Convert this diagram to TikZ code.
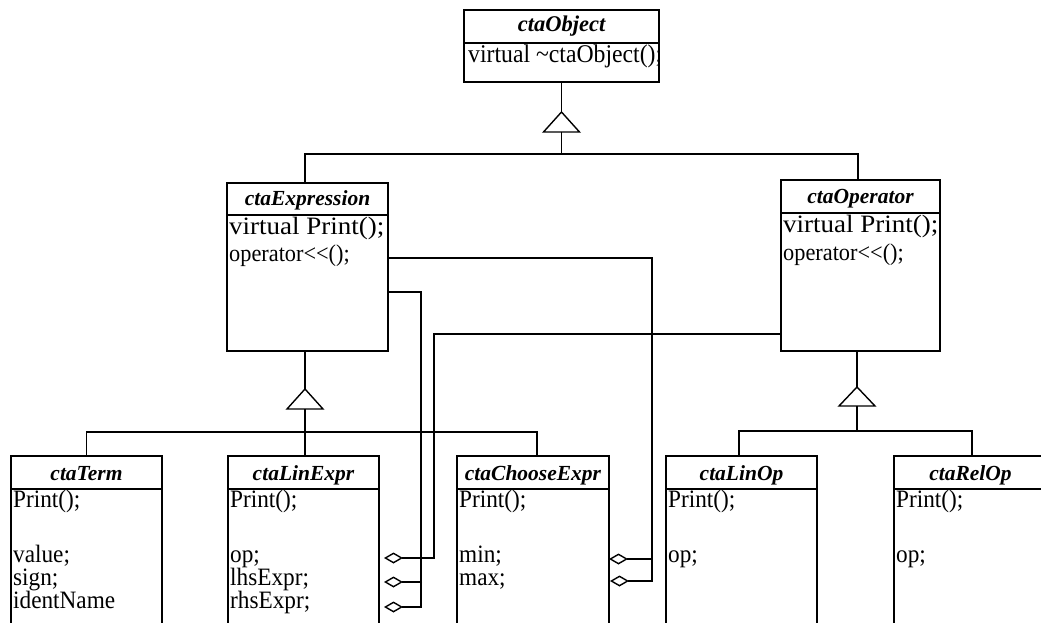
\documentclass[tikz,border=0pt]{standalone}
\usepackage{fontspec}
\setmainfont{Liberation Serif}
\newfontfamily\memberfont{Liberation Serif}[FakeStretch=0.93]
\newfontfamily\virtualfont{Liberation Serif}[FakeStretch=1.08]
\usetikzlibrary{arrows.meta,calc}

\tikzset{
  classbox/.style={draw, line width=1.8pt, rectangle, anchor=north west, inner sep=0pt, outer sep=0pt},
  title/.style={font=\fontsize{21.5}{24}\selectfont\bfseries\itshape, anchor=base, inner sep=0pt},
  member/.style={font=\memberfont\fontsize{25}{28}\selectfont, anchor=base west, inner sep=0pt},
  opmember/.style={font=\memberfont\fontsize{24}{27}\selectfont, anchor=base west, inner sep=0pt},
  bigmember/.style={font=\virtualfont\fontsize{25}{28}\selectfont, anchor=base west, inner sep=0pt},
  wire/.style={line width=1.4pt},
  agg/.style={wire, -{Diamond[open, length=19pt, width=11pt]}},
}

\begin{document}
\begin{tikzpicture}[x=1pt, y=-1pt]
\useasboundingbox (0,0) rectangle (1041,623);
\clip (0,0) rectangle (1041,623);

% ---- ctaObject ----
\node[classbox, minimum width=195pt, minimum height=33pt] (objH) at (464,10) {};
\node[classbox, minimum width=195pt, minimum height=39pt] (objB) at (464,43) {};
\node[title, font=\fontsize{22.5}{25}\selectfont\bfseries\itshape] (objT) at (561.5,32) {ctaObject};
\begin{scope}
  \clip (464,43) rectangle (659,82);
  \node[member, font=\memberfont\fontsize{25.5}{28}\selectfont] (objM1) at (468,63) {virtual \textasciitilde ctaObject();};
\end{scope}

% ---- ctaExpression ----
\node[classbox, minimum width=161pt, minimum height=32pt] (exprH) at (227,183) {};
\node[classbox, minimum width=161pt, minimum height=136pt] (exprB) at (227,215) {};
\node[title] (exprT) at (307.5,205) {ctaExpression};
\node[bigmember] (exprM1) at (229,234) {virtual Print();};
\node[opmember] (exprM2) at (229,261) {operator<\kern0pt<();};

% ---- ctaOperator ----
\node[classbox, minimum width=159pt, minimum height=33pt] (operH) at (781,180) {};
\node[classbox, minimum width=159pt, minimum height=138pt] (operB) at (781,213) {};
\node[title] (operT) at (860.5,203) {ctaOperator};
\node[bigmember] (operM1) at (783,232) {virtual Print();};
\node[opmember] (operM2) at (783,260) {operator<\kern0pt<();};

% ---- ctaTerm ----
\node[classbox, minimum width=151pt, minimum height=33pt] (termH) at (11,456) {};
\node[classbox, minimum width=151pt, minimum height=160pt] (termB) at (11,489) {};
\node[title] (termT) at (86.5,480) {ctaTerm};
\node[member] (termM1) at (13,507) {Print();};
\node[member] (termM2) at (13,562) {value;};
\node[member] (termM3) at (13,585) {sign;};
\node[member] (termM4) at (13,608) {identName};

% ---- ctaLinExpr ----
\node[classbox, minimum width=151pt, minimum height=33pt] (linexH) at (228,456) {};
\node[classbox, minimum width=151pt, minimum height=160pt] (linexB) at (228,489) {};
\node[title] (linexT) at (303.5,480) {ctaLinExpr};
\node[member] (linexM1) at (230,507) {Print();};
\node[member] (linexM2) at (230,562) {op;};
\node[member] (linexM3) at (230,585) {lhsExpr;};
\node[member] (linexM4) at (230,608) {rhsExpr;};

% ---- ctaChooseExpr ----
\node[classbox, minimum width=152pt, minimum height=33pt] (chooseH) at (457,456) {};
\node[classbox, minimum width=152pt, minimum height=160pt] (chooseB) at (457,489) {};
\node[title] (chooseT) at (533,480) {ctaChooseExpr};
\node[member] (chooseM1) at (459,507) {Print();};
\node[member] (chooseM2) at (459,562) {min;};
\node[member] (chooseM3) at (459,585) {max;};

% ---- ctaLinOp ----
\node[classbox, minimum width=151pt, minimum height=33pt] (linopH) at (666,456) {};
\node[classbox, minimum width=151pt, minimum height=160pt] (linopB) at (666,489) {};
\node[title] (linopT) at (741.5,480) {ctaLinOp};
\node[member] (linopM1) at (668,507) {Print();};
\node[member] (linopM2) at (668,562) {op;};

% ---- ctaRelOp ----
\node[classbox, minimum width=153pt, minimum height=33pt] (relopH) at (894,456) {};
\node[classbox, minimum width=153pt, minimum height=160pt] (relopB) at (894,489) {};
\node[title] (relopT) at (970.5,480) {ctaRelOp};
\node[member] (relopM1) at (896,507) {Print();};
\node[member] (relopM2) at (896,562) {op;};

% ---- generalisation: ctaObject ----
\coordinate (tri1) at (561.5,112);
\coordinate (tri1b) at (561.5,132);
\coordinate (bus1) at (561.5,154);
\draw[wire] (objB.south) -- (tri1);
\draw[wire] (tri1) -- ++(-18,20) -- ++(36,0) -- cycle;
\draw[wire] (tri1b) -- (bus1);
\draw[wire] (exprH.north -| 305,0) |- (bus1) -| (operH.north -| 858,0);

% ---- generalisation: ctaExpression ----
\coordinate (tri2) at (305,389);
\coordinate (tri2b) at (305,409);
\coordinate (bus2) at (305,432);
\draw[wire] (exprB.south -| tri2) -- (tri2);
\draw[wire] (tri2) -- ++(-18,20) -- ++(36,0) -- cycle;
\draw[wire] (tri2b) -- (linexH.north -| tri2);
\draw[wire] (termH.north) |- (bus2) -| (chooseH.north -| 537,0);

% ---- generalisation: ctaOperator ----
\coordinate (tri3) at (857,387);
\coordinate (tri3b) at (857,406);
\coordinate (bus3) at (857,431);
\draw[wire] (operB.south -| tri3) -- (tri3);
\draw[wire] (tri3) -- ++(-18,19) -- ++(36,0) -- cycle;
\draw[wire] (tri3b) -- (bus3);
\draw[wire] (linopH.north -| 739,0) |- (bus3) -| (relopH.north -| 972,0);

% ---- aggregations ----
\coordinate (maxJ) at (652,581);
\coordinate (minJ) at (652,559);
\coordinate (chooseMax) at (610,581);
\coordinate (chooseMin) at (609,559);
\draw[agg] ($(exprB.north east)+(0,43)$) -| (maxJ) -- (chooseMax);
\draw[agg] (minJ) -- (chooseMin);

\coordinate (rhsJ) at (421,607);
\coordinate (lhsJ) at (422,582);
\coordinate (linRhs) at (384,607);
\coordinate (linLhs) at (384,582);
\draw[agg] ($(exprB.north east)+(0,77)$) -| (rhsJ) -- (linRhs);
\draw[agg] (lhsJ) -- (linLhs);

\coordinate (opJ) at (434,558);
\coordinate (linOp) at (384,558);
\draw[agg] ($(operB.north west)+(0,121)$) -| (opJ) -- (linOp);
\end{tikzpicture}
\end{document}
